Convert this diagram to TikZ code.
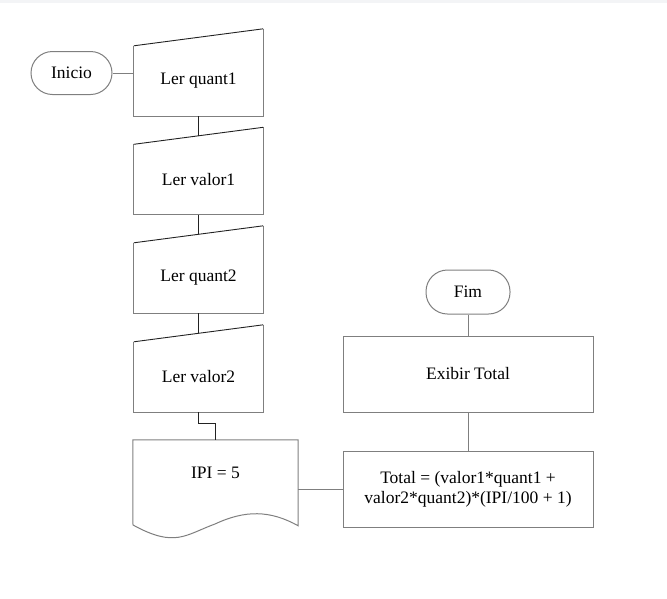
\documentclass[tikz,border=0pt]{standalone}
\usepackage{fontspec}
\IfFontExistsTF{LiberationSerif-Regular.ttf}{%
  \setmainfont{LiberationSerif}[Extension=.ttf, UprightFont=*-Regular, BoldFont=*-Bold, ItalicFont=*-Italic, BoldItalicFont=*-BoldItalic]%
}{}
\usetikzlibrary{calc}
\definecolor{bordergray}{HTML}{7F7F7F}
\definecolor{darkline}{HTML}{222222}
\definecolor{topband}{HTML}{F3F4F6}
\tikzset{
  base/.style={font=\fontsize{17.5}{21.5}\selectfont, inner sep=0pt, align=center},
  termbox/.style={base, draw=bordergray, line width=1pt, rounded corners=21.5pt},
  inbox/.style={base, minimum width=129pt, minimum height=70pt},
  procbox/.style={base, draw=bordergray, line width=1pt, minimum width=250pt, minimum height=76pt},
  docbox/.style={base, minimum width=165pt, minimum height=66pt},
  edge/.style={draw=bordergray, line width=1pt},
  darkedge/.style={draw=darkline, line width=0.9pt},
}
\newcommand\manualinput[1]{%
  \draw[edge] ($(#1.north east)+(0,-17)$) -- (#1.south east) -- (#1.south west) -- (#1.north west);
  \draw[darkedge] (#1.north west) -- ($(#1.north east)+(0,-17)$);
}
\begin{document}
\begin{tikzpicture}[x=1pt,y=-1pt]
\useasboundingbox (0,0) rectangle (667,598);
\fill[topband] (0,0) rectangle (667,3);

\node[termbox, minimum width=81pt, minimum height=43pt] (inicio) at (71.5,73) {Inicio};
\node[inbox] (q1) at (198.5,81) {Ler quant1};
\node[inbox] (v1) at (198.5,179.5) {Ler valor1};
\node[inbox] (q2) at (198.5,278) {Ler quant2};
\node[inbox] (v2) at (198.5,377) {Ler valor2};
\node[docbox] (doc) at (215.5,473) {IPI = 5};
\node[termbox, minimum width=84pt, minimum height=44pt] (fim) at (468,292) {Fim};
\node[procbox] (exibir) at (468,374) {Exibir Total};
\node[procbox] (total) at (468,489) {\raisebox{8pt}{\begin{tabular}{@{}c@{}}Total = (valor1*quant1 +\\[-1pt] valor2*quant2)*(IPI/100 + 1)\end{tabular}}};

\manualinput{q1}
\manualinput{v1}
\manualinput{q2}
\manualinput{v2}

% document shape
\draw[edge] (doc.north west) -- (doc.north east) -- ++(0,86)
  .. controls (270,510) and (245,510) .. (215,524)
  .. controls (185,535) and (175,548) .. (133,525) -- cycle;

% connectors
\draw[edge] (inicio.east) -- (inicio.east -| q1.west);
\draw[darkedge] (q1.south) -- ($(v1.north)+(0,-8.5)$);
\draw[darkedge] (v1.south) -- ($(q2.north)+(0,-8.5)$);
\draw[darkedge] (q2.south) -- ($(v2.north)+(0,-8.5)$);
\draw[darkedge] (v2.south) -- ++(0,11) -| (doc.north);
\draw[edge] (total.west) -- (total.west -| doc.east);
\draw[edge] (total.north) -- (exibir.south);
\draw[edge] (exibir.north) -- (fim.south);
\end{tikzpicture}
\end{document}
